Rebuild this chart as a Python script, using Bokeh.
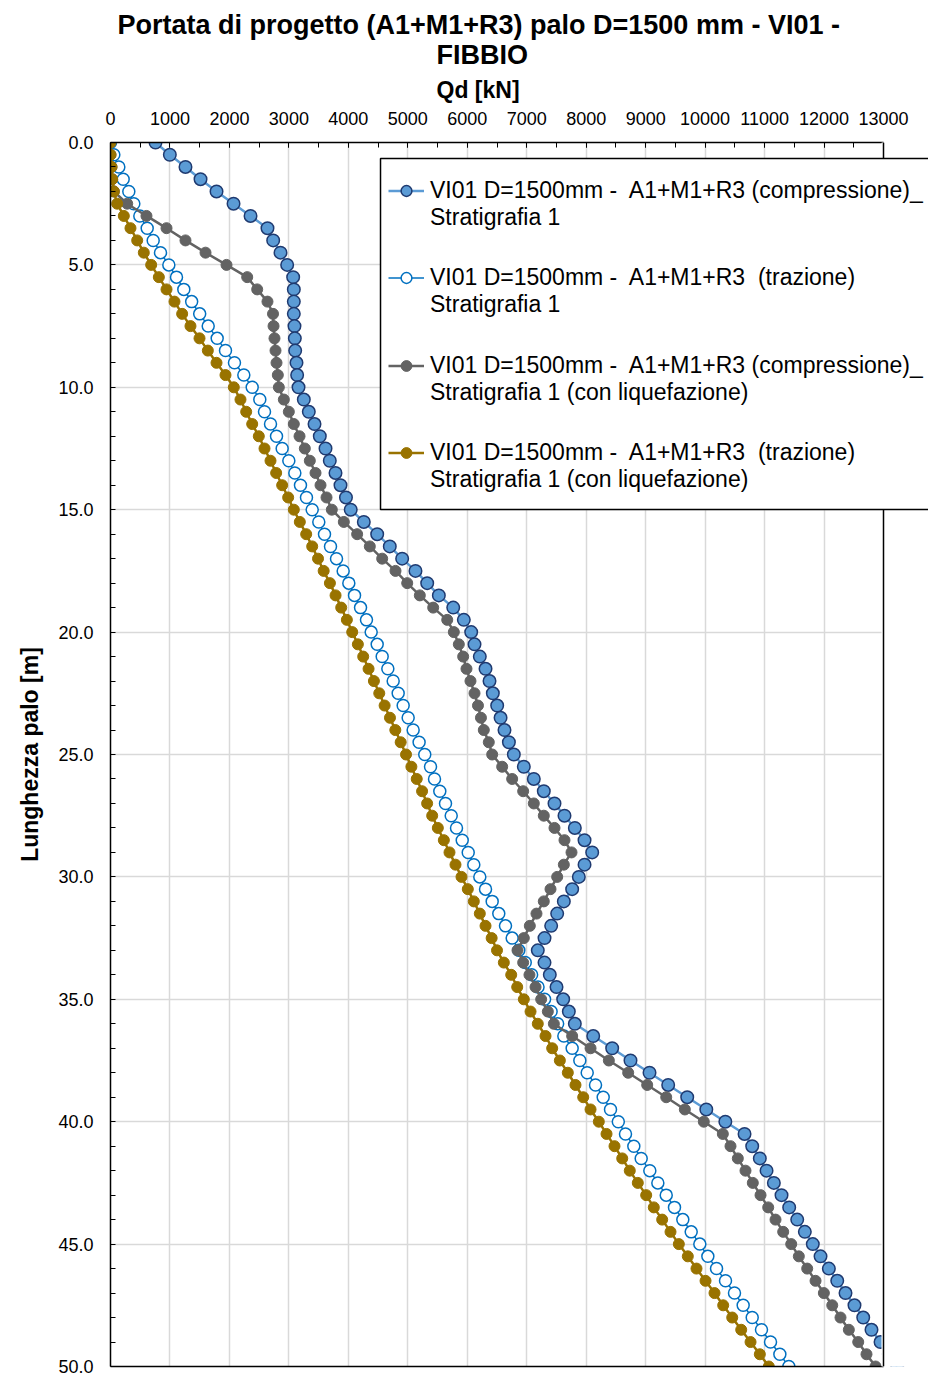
from bokeh.plotting import figure
from bokeh.models import (Range1d, Legend, LegendItem, Title, SingleIntervalTicker,
                          PrintfTickFormatter, BoxAnnotation, Span, LinearAxis, FixedTicker)
from bokeh.embed import file_html
from bokeh.resources import INLINE

# ---------------- data ----------------
depth = [0.0, 0.5, 1.0, 1.5, 2.0, 2.5, 3.0, 3.5, 4.0, 4.5,
         5.0, 5.5, 6.0, 6.5, 7.0, 7.5, 8.0, 8.5, 9.0, 9.5,
         10.0, 10.5, 11.0, 11.5, 12.0, 12.5, 13.0, 13.5, 14.0, 14.5,
         15.0, 15.5, 16.0, 16.5, 17.0, 17.5, 18.0, 18.5, 19.0, 19.5,
         20.0, 20.5, 21.0, 21.5, 22.0, 22.5, 23.0, 23.5, 24.0, 24.5,
         25.0, 25.5, 26.0, 26.5, 27.0, 27.5, 28.0, 28.5, 29.0, 29.5,
         30.0, 30.5, 31.0, 31.5, 32.0, 32.5, 33.0, 33.5, 34.0, 34.5,
         35.0, 35.5, 36.0, 36.5, 37.0, 37.5, 38.0, 38.5, 39.0, 39.5,
         40.0, 40.5, 41.0, 41.5, 42.0, 42.5, 43.0, 43.5, 44.0, 44.5,
         45.0, 45.5, 46.0, 46.5, 47.0, 47.5, 48.0, 48.5, 49.0, 49.5,
         50.0]

qd_compr = [757, 998, 1261, 1514, 1783, 2069, 2355, 2640, 2736, 2859,
            2971, 3072, 3083, 3083, 3083, 3094, 3100, 3106, 3128, 3139,
            3162, 3251, 3335, 3431, 3520, 3616, 3688, 3784, 3868, 3960,
            4040, 4260, 4485, 4697, 4905, 5129, 5326, 5522, 5764, 5942,
            6066, 6122, 6211, 6307, 6374, 6430, 6503, 6560, 6626, 6700,
            6783, 6951, 7119, 7287, 7467, 7635, 7809, 7972, 8101, 7972,
            7876, 7764, 7624, 7512, 7411, 7299, 7186, 7299, 7388, 7501,
            7613, 7708, 7809, 8118, 8437, 8745, 9065, 9379, 9699, 10020,
            10340, 10663, 10792, 10920, 11033, 11156, 11285, 11414, 11549, 11677,
            11811, 11941, 12081, 12222, 12361, 12512, 12659, 12798, 12950, 13090,
            13230]

qd_traz = [0, 56, 140, 213, 308, 392, 493, 617, 718, 841,
           981, 1110, 1233, 1365, 1500, 1643, 1794, 1934, 2085, 2242,
           2383, 2511, 2590, 2691, 2792, 2887, 2999, 3100, 3195, 3296,
           3392, 3503, 3599, 3700, 3801, 3913, 4008, 4104, 4205, 4305,
           4384, 4485, 4569, 4664, 4754, 4838, 4922, 5006, 5090, 5190,
           5285, 5382, 5449, 5538, 5634, 5730, 5819, 5915, 6016, 6110,
           6211, 6307, 6419, 6530, 6643, 6755, 6867, 6975, 7082, 7190,
           7300, 7410, 7520, 7624, 7764, 7893, 8017, 8157, 8286, 8409,
           8540, 8661, 8801, 8925, 9070, 9205, 9346, 9485, 9625, 9766,
           9911, 10046, 10192, 10343, 10494, 10640, 10792, 10948, 11100, 11257,
           11408]

qd_compr_liq = [0, 0, 17, 28, 56, 281, 605, 942, 1261, 1598,
                1951, 2299, 2467, 2640, 2733, 2742, 2758, 2775, 2792, 2814,
                2831, 2915, 2999, 3083, 3179, 3268, 3352, 3448, 3532, 3633,
                3722, 3924, 4148, 4361, 4569, 4793, 4990, 5202, 5427, 5663,
                5774, 5858, 5931, 5987, 6054, 6122, 6180, 6230, 6278, 6362,
                6419, 6587, 6755, 6940, 7119, 7287, 7467, 7635, 7753, 7624,
                7512, 7400, 7287, 7164, 7052, 6951, 6845, 6940, 7046, 7148,
                7243, 7355, 7456, 7764, 8073, 8381, 8706, 9026, 9346, 9659,
                9978, 10298, 10427, 10550, 10679, 10802, 10932, 11061, 11184, 11313,
                11448, 11576, 11717, 11857, 11997, 12138, 12277, 12417, 12575, 12714,
                12866]

qd_traz_liq = [0, 0, 17, 28, 56, 112, 224, 336, 449, 560,
               684, 813, 942, 1076, 1205, 1345, 1497, 1637, 1783, 1934,
               2074, 2186, 2282, 2383, 2494, 2590, 2691, 2786, 2887, 2988,
               3083, 3184, 3291, 3392, 3490, 3585, 3690, 3785, 3880, 3975,
               4065, 4160, 4250, 4340, 4430, 4520, 4610, 4700, 4790, 4880,
               4970, 5060, 5150, 5240, 5325, 5410, 5505, 5606, 5701, 5802,
               5903, 6009, 6110, 6211, 6307, 6410, 6500, 6615, 6739, 6840,
               6951, 7064, 7186, 7316, 7428, 7557, 7691, 7820, 7950, 8073,
               8212, 8342, 8476, 8606, 8733, 8868, 9009, 9137, 9278, 9418,
               9558, 9709, 9855, 10007, 10158, 10304, 10456, 10607, 10764, 10920,
               11071]

legend_line1 = ["VI01 D=1500mm -  A1+M1+R3 (compressione)_",
                "VI01 D=1500mm -  A1+M1+R3  (trazione)",
                "VI01 D=1500mm -  A1+M1+R3 (compressione)_",
                "VI01 D=1500mm -  A1+M1+R3  (trazione)"]
legend_line2 = ["Stratigrafia 1",
                "Stratigrafia 1",
                "Stratigrafia 1 (con liquefazione)",
                "Stratigrafia 1 (con liquefazione)"]

title_line1 = "Portata di progetto (A1+M1+R3)  palo D=1500 mm - VI01 -"
title_line2 = "FIBBIO"
x_title = "Qd [kN]"
y_title = "Lunghezza palo [m]"

X_MAX = 13000
Y_MAX = 50

FONT = "Liberation Sans"

# ---------------- figure ----------------
# plot area is 773 px wide for 0..13000; the frame is extended to the page
# edge so the legend box can run past the right border like in the original
FRAME_W = 818
PLOT_W = 773
x_end = X_MAX * FRAME_W / PLOT_W

p = figure(frame_width=FRAME_W, frame_height=1224,
           min_border_left=110, min_border_right=0,
           min_border_top=142, min_border_bottom=22,
           x_range=Range1d(0, x_end), y_range=Range1d(Y_MAX, 0),
           x_axis_location="above", title=None,
           output_backend="svg", toolbar_location=None,
           background_fill_color="white", border_fill_color="white")

p.outline_line_color = None

# axes
xa = p.xaxis[0]
xa.bounds = (0, X_MAX)
xa.ticker = SingleIntervalTicker(interval=1000, num_minor_ticks=2)
xa.formatter = PrintfTickFormatter(format="%d")
xa.major_tick_in = 5
xa.major_tick_out = 0
xa.minor_tick_in = 5
xa.minor_tick_out = 0
xa.major_label_standoff = 18
xa.major_label_text_font = FONT
xa.major_label_text_font_size = "18px"
xa.major_label_text_color = "black"
xa.axis_line_color = "black"
xa.axis_line_width = 1.5

ya = p.yaxis[0]
ya.ticker = SingleIntervalTicker(interval=5, num_minor_ticks=5)
ya.formatter = PrintfTickFormatter(format="%.1f")
ya.major_tick_in = 0
ya.major_tick_out = 0
ya.minor_tick_in = 5
ya.minor_tick_out = 0
ya.major_label_standoff = 17
ya.major_label_text_font = FONT
ya.major_label_text_font_size = "18px"
ya.major_label_text_color = "black"
ya.axis_line_color = "black"
ya.axis_line_width = 1.5
ya.axis_label = y_title
ya.axis_label_text_font = FONT
ya.axis_label_text_font_size = "23px"
ya.axis_label_text_font_style = "bold"
ya.axis_label_text_color = "black"
ya.axis_label_standoff = 12

# bottom border line (0..13000)
bottom_axis = LinearAxis(ticker=FixedTicker(ticks=[]), bounds=(0, X_MAX),
                         axis_line_color="black", axis_line_width=1.5,
                         major_label_text_font_size="0px",
                         major_tick_out=0, minor_tick_out=0)
p.add_layout(bottom_axis, "below")

p.xgrid.ticker = SingleIntervalTicker(interval=1000)
p.ygrid.ticker = SingleIntervalTicker(interval=5)
p.xgrid.grid_line_color = "#d9d9d9"
p.ygrid.grid_line_color = "#d9d9d9"
p.xgrid.grid_line_width = 1.5
p.ygrid.grid_line_width = 1.5

# titles (stacked outward from the frame)
for txt, size, off, stand in [(x_title, "23px", 326, 12),
                              (title_line2, "27px", 326, -2),
                              (title_line1, "27px", 7, -2)]:
    t = Title(text=txt, align="left", offset=off, standoff=stand,
              text_font=FONT, text_font_size=size, text_font_style="bold",
              text_color="black")
    p.add_layout(t, "above")

# ---------------- series ----------------
l1 = p.line(qd_compr, depth, line_color="#5b9bd5", line_width=2.5)
s1 = p.scatter(qd_compr, depth, marker="circle", size=12.5,
               fill_color="#5b9bd5", line_color="#1f3a70", line_width=1.5)

l2 = p.line(qd_traz, depth, line_color="#0070c0", line_width=1.5)
s2 = p.scatter(qd_traz, depth, marker="circle", size=12,
               fill_color="white", line_color="#0070c0", line_width=1.5)

l3 = p.line(qd_compr_liq, depth, line_color="#636363", line_width=2.5)
s3 = p.scatter(qd_compr_liq, depth, marker="circle", size=11,
               fill_color="#636363", line_color="#636363", line_width=1)

l4 = p.line(qd_traz_liq, depth, line_color="#997300", line_width=2.5)
s4 = p.scatter(qd_traz_liq, depth, marker="circle", size=11,
               fill_color="#997300", line_color="#997300", line_width=1)

dummy = p.line([], [], line_alpha=0)

# hide everything right of 13000 (outside the plot area)
p.add_layout(BoxAnnotation(left=X_MAX, fill_color="white", fill_alpha=1.0,
                           line_color="white", line_alpha=1.0, line_width=4))
p.add_layout(Span(location=X_MAX, dimension="height", line_color="black",
                  line_width=1.5))

# legend box
p.add_layout(BoxAnnotation(left=4541, right=14100, top=0.654, bottom=14.99,
                           fill_color="white", fill_alpha=1.0,
                           line_color="black", line_alpha=1.0, line_width=1.5))

series_renderers = [[l1, s1], [l2, s2], [l3, s3], [l4, s4]]
legend_y = [1135.5, 1048.5, 960.5, 873.5]
for k in range(4):
    lg = Legend(items=[LegendItem(label=legend_line1[k], renderers=series_renderers[k]),
                       LegendItem(label=legend_line2[k], renderers=[dummy])],
                location=(278, legend_y[k]), orientation="vertical",
                label_text_font=FONT, label_text_font_size="23px",
                label_text_color="black", label_text_line_height=1.1,
                glyph_width=36, glyph_height=27, label_height=27,
                label_standoff=6, padding=0, spacing=0, margin=0,
                border_line_color=None, background_fill_alpha=0.0)
    p.add_layout(lg)

open("out.html", "w").write(file_html(p, INLINE))
